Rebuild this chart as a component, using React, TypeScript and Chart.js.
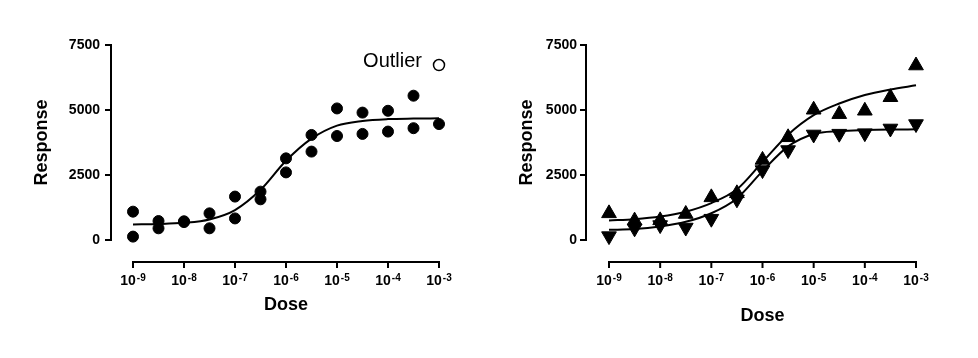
import React, { useEffect, useRef } from "react";
import { Chart, registerables } from "chart.js";

Chart.register(...registerables);

// ---- shared axes ----
const doseExponents = [-9, -8.5, -8, -7.5, -7, -6.5, -6, -5.5, -5, -4.5, -4, -3.5, -3];
const xTickExponents = [-9, -8, -7, -6, -5, -4, -3];
const yTickValues = [0, 2500, 5000, 7500];
const xTitle = "Dose";
const yTitle = "Response";

// ---- left panel ----
const leftReplicateA = [1090, 730, 720, 1025, 1670, 1860, 3140, 4040, 5060, 4900, 4970, 5550, null];
const leftReplicateB = [130, 450, 690, 450, 830, 1565, 2600, 3400, 4000, 4080, 4170, 4300, 4460];
const leftFit = [600, 615, 660, 790, 1150, 1930, 3050, 3900, 4400, 4580, 4650, 4670, 4680];
const outlierDose = [-3];
const outlierResponse = [6730];
const outlierLabel = "Outlier";

// ---- right panel ----
const rightUp = [1025, 745, 755, 1000, 1640, 1795, 3080, 3950, 5010, 4840, 4970, 5490, 6710];
const rightDown = [150, 450, 575, 480, 820, 1565, 2690, 3460, 4060, 4090, 4110, 4290, 4460];
const rightUpFit = [750, 800, 900, 1090, 1420, 1950, 3000, 4050, 4800, 5250, 5580, 5790, 5950];
const rightDownFit = [390, 420, 520, 700, 1030, 1600, 2650, 3600, 4080, 4190, 4230, 4250, 4255];

const FONT = "'Liberation Sans', Arial, Helvetica, sans-serif";
const W = 489;
const H = 358;
const AREA_TOP = 45;
const AREA_BOTTOM = 240;
const X_AXIS_Y = 262;

type Panel = {
  left: number;
  areaLeft: number;
  areaRight: number;
  axisX: number;
  labelPad: number;
  yTitlePad: number;
  xTitlePad: number;
};

const leftPanel: Panel = { left: 0, areaLeft: 133, areaRight: 439, axisX: 111, labelPad: 33, yTitlePad: 31, xTitlePad: 42 };
const rightPanel: Panel = { left: 489, areaLeft: 120, areaRight: 427, axisX: 97, labelPad: 32, yTitlePad: 27, xTitlePad: 31 };

const pts = (ys: (number | null)[], xs: number[] = doseExponents) =>
  xs.map((x, i) => ({ x, y: ys[i] })).filter((p) => p.y !== null) as { x: number; y: number }[];

function makeAxesPlugin(panel: Panel, showOutlier: boolean) {
  return {
    id: "prismAxes",
    afterDraw(chart: any) {
      const ctx = chart.ctx as CanvasRenderingContext2D;
      const xs = chart.scales.x;
      const ys = chart.scales.y;
      ctx.save();
      ctx.strokeStyle = "#000";
      ctx.fillStyle = "#000";
      ctx.lineWidth = 2;
      ctx.lineCap = "butt";
      // y axis
      const yTop = ys.getPixelForValue(yTickValues[yTickValues.length - 1]);
      const yBot = ys.getPixelForValue(yTickValues[0]);
      ctx.beginPath();
      ctx.moveTo(panel.axisX, yTop - 1);
      ctx.lineTo(panel.axisX, yBot + 1);
      for (const v of yTickValues) {
        const py = ys.getPixelForValue(v);
        ctx.moveTo(panel.axisX + 1, py);
        ctx.lineTo(panel.axisX - 6, py);
      }
      ctx.stroke();
      // x axis
      const xl = xs.getPixelForValue(xTickExponents[0]);
      const xr = xs.getPixelForValue(xTickExponents[xTickExponents.length - 1]);
      ctx.beginPath();
      ctx.moveTo(xl - 1, X_AXIS_Y);
      ctx.lineTo(xr + 1, X_AXIS_Y);
      for (const e of xTickExponents) {
        const px = xs.getPixelForValue(e);
        ctx.moveTo(px, X_AXIS_Y - 1);
        ctx.lineTo(px, X_AXIS_Y + 6);
      }
      ctx.stroke();
      // x tick labels 10^e
      ctx.textBaseline = "alphabetic";
      ctx.textAlign = "left";
      for (const e of xTickExponents) {
        const px = xs.getPixelForValue(e);
        const base = "10";
        const exp = String(e);
        ctx.font = `bold 14px ${FONT}`;
        const wb = ctx.measureText(base).width;
        ctx.font = `bold 10px ${FONT}`;
        const we = ctx.measureText(exp).width;
        const total = wb + 1 + we;
        const x0 = px - total / 2;
        ctx.font = `bold 14px ${FONT}`;
        ctx.fillText(base, x0, 285);
        ctx.font = `bold 10px ${FONT}`;
        ctx.fillText(exp, x0 + wb + 1, 281);
      }
      if (showOutlier) {
        const ox = xs.getPixelForValue(outlierDose[0]);
        const oy = ys.getPixelForValue(outlierResponse[0]);
        ctx.font = `20px ${FONT}`;
        ctx.textAlign = "right";
        ctx.fillText(outlierLabel, ox - 17, oy + 2);
      }
      ctx.restore();
    },
  };
}

function buildOptions(panel: Panel): any {
  return {
    responsive: false,
    animation: false,
    devicePixelRatio: 1,
    events: [],
    layout: {
      autoPadding: false,
      padding: { left: 0, right: W - panel.areaRight, top: AREA_TOP, bottom: 0 },
    },
    plugins: { legend: { display: false }, tooltip: { enabled: false } },
    scales: {
      x: {
        type: "linear",
        min: xTickExponents[0],
        max: xTickExponents[xTickExponents.length - 1],
        grid: { display: false, drawTicks: false },
        border: { display: false },
        ticks: { display: false },
        title: {
          display: true,
          text: xTitle,
          color: "#000",
          font: { family: FONT, size: 18, weight: "bold" },
          padding: { top: 0, bottom: panel.xTitlePad },
        },
        afterFit: (s: any) => {
          s.height = H - AREA_BOTTOM;
        },
      },
      y: {
        type: "linear",
        min: yTickValues[0],
        max: yTickValues[yTickValues.length - 1],
        grid: { display: false, drawTicks: false },
        border: { display: false },
        afterBuildTicks: (s: any) => {
          s.ticks = yTickValues.map((v) => ({ value: v }));
        },
        ticks: {
          color: "#000",
          padding: panel.labelPad,
          font: { family: FONT, size: 14, weight: "bold" },
          callback: (v: any) => String(v),
        },
        title: {
          display: true,
          text: yTitle,
          color: "#000",
          font: { family: FONT, size: 18, weight: "bold" },
          padding: { top: panel.yTitlePad, bottom: 0 },
        },
        afterFit: (s: any) => {
          s.width = panel.areaLeft;
        },
      },
    },
  };
}

const dotStyle = {
  showLine: false,
  pointStyle: "circle",
  pointRadius: 5.5,
  pointBorderWidth: 1,
  pointBackgroundColor: "#000",
  pointBorderColor: "#000",
  clip: false,
};

const curveStyle = {
  showLine: true,
  pointRadius: 0,
  borderColor: "#000",
  borderWidth: 2,
  cubicInterpolationMode: "monotone",
  fill: false,
  clip: false,
};

function PanelChart({ panel, datasets, showOutlier }: { panel: Panel; datasets: any[]; showOutlier: boolean }) {
  const ref = useRef<HTMLCanvasElement | null>(null);
  useEffect(() => {
    if (!ref.current) return;
    const chart = new Chart(ref.current, {
      type: "scatter",
      data: { datasets },
      options: buildOptions(panel),
      plugins: [makeAxesPlugin(panel, showOutlier)],
    } as any);
    return () => chart.destroy();
  }, []);
  return (
    <div style={{ position: "absolute", left: panel.left, top: 0, width: W, height: H }}>
      <canvas ref={ref} width={W} height={H} style={{ display: "block", width: W, height: H }} />
    </div>
  );
}

export default function App() {
  const leftDatasets = [
    { ...dotStyle, label: "Replicate A", data: pts(leftReplicateA) },
    { ...dotStyle, label: "Replicate B", data: pts(leftReplicateB) },
    {
      ...dotStyle,
      label: "Outlier",
      data: pts(outlierResponse, outlierDose),
      pointBackgroundColor: "#fff",
      pointBorderWidth: 1.5,
    },
    { ...curveStyle, label: "Fit", data: pts(leftFit) },
  ];
  const rightDatasets = [
    {
      ...dotStyle,
      label: "Up",
      data: pts(rightUp),
      pointStyle: "triangle",
      pointRadius: 8.5,
    },
    {
      ...dotStyle,
      label: "Down",
      data: pts(rightDown),
      pointStyle: "triangle",
      pointRadius: 8.5,
      pointRotation: 180,
    },
    { ...curveStyle, label: "Up fit", data: pts(rightUpFit) },
    { ...curveStyle, label: "Down fit", data: pts(rightDownFit) },
  ];
  return (
    <div style={{ position: "absolute", left: 0, top: 0, width: 978, height: 358, background: "#fff" }}>
      <PanelChart panel={leftPanel} datasets={leftDatasets} showOutlier={true} />
      <PanelChart panel={rightPanel} datasets={rightDatasets} showOutlier={false} />
    </div>
  );
}
